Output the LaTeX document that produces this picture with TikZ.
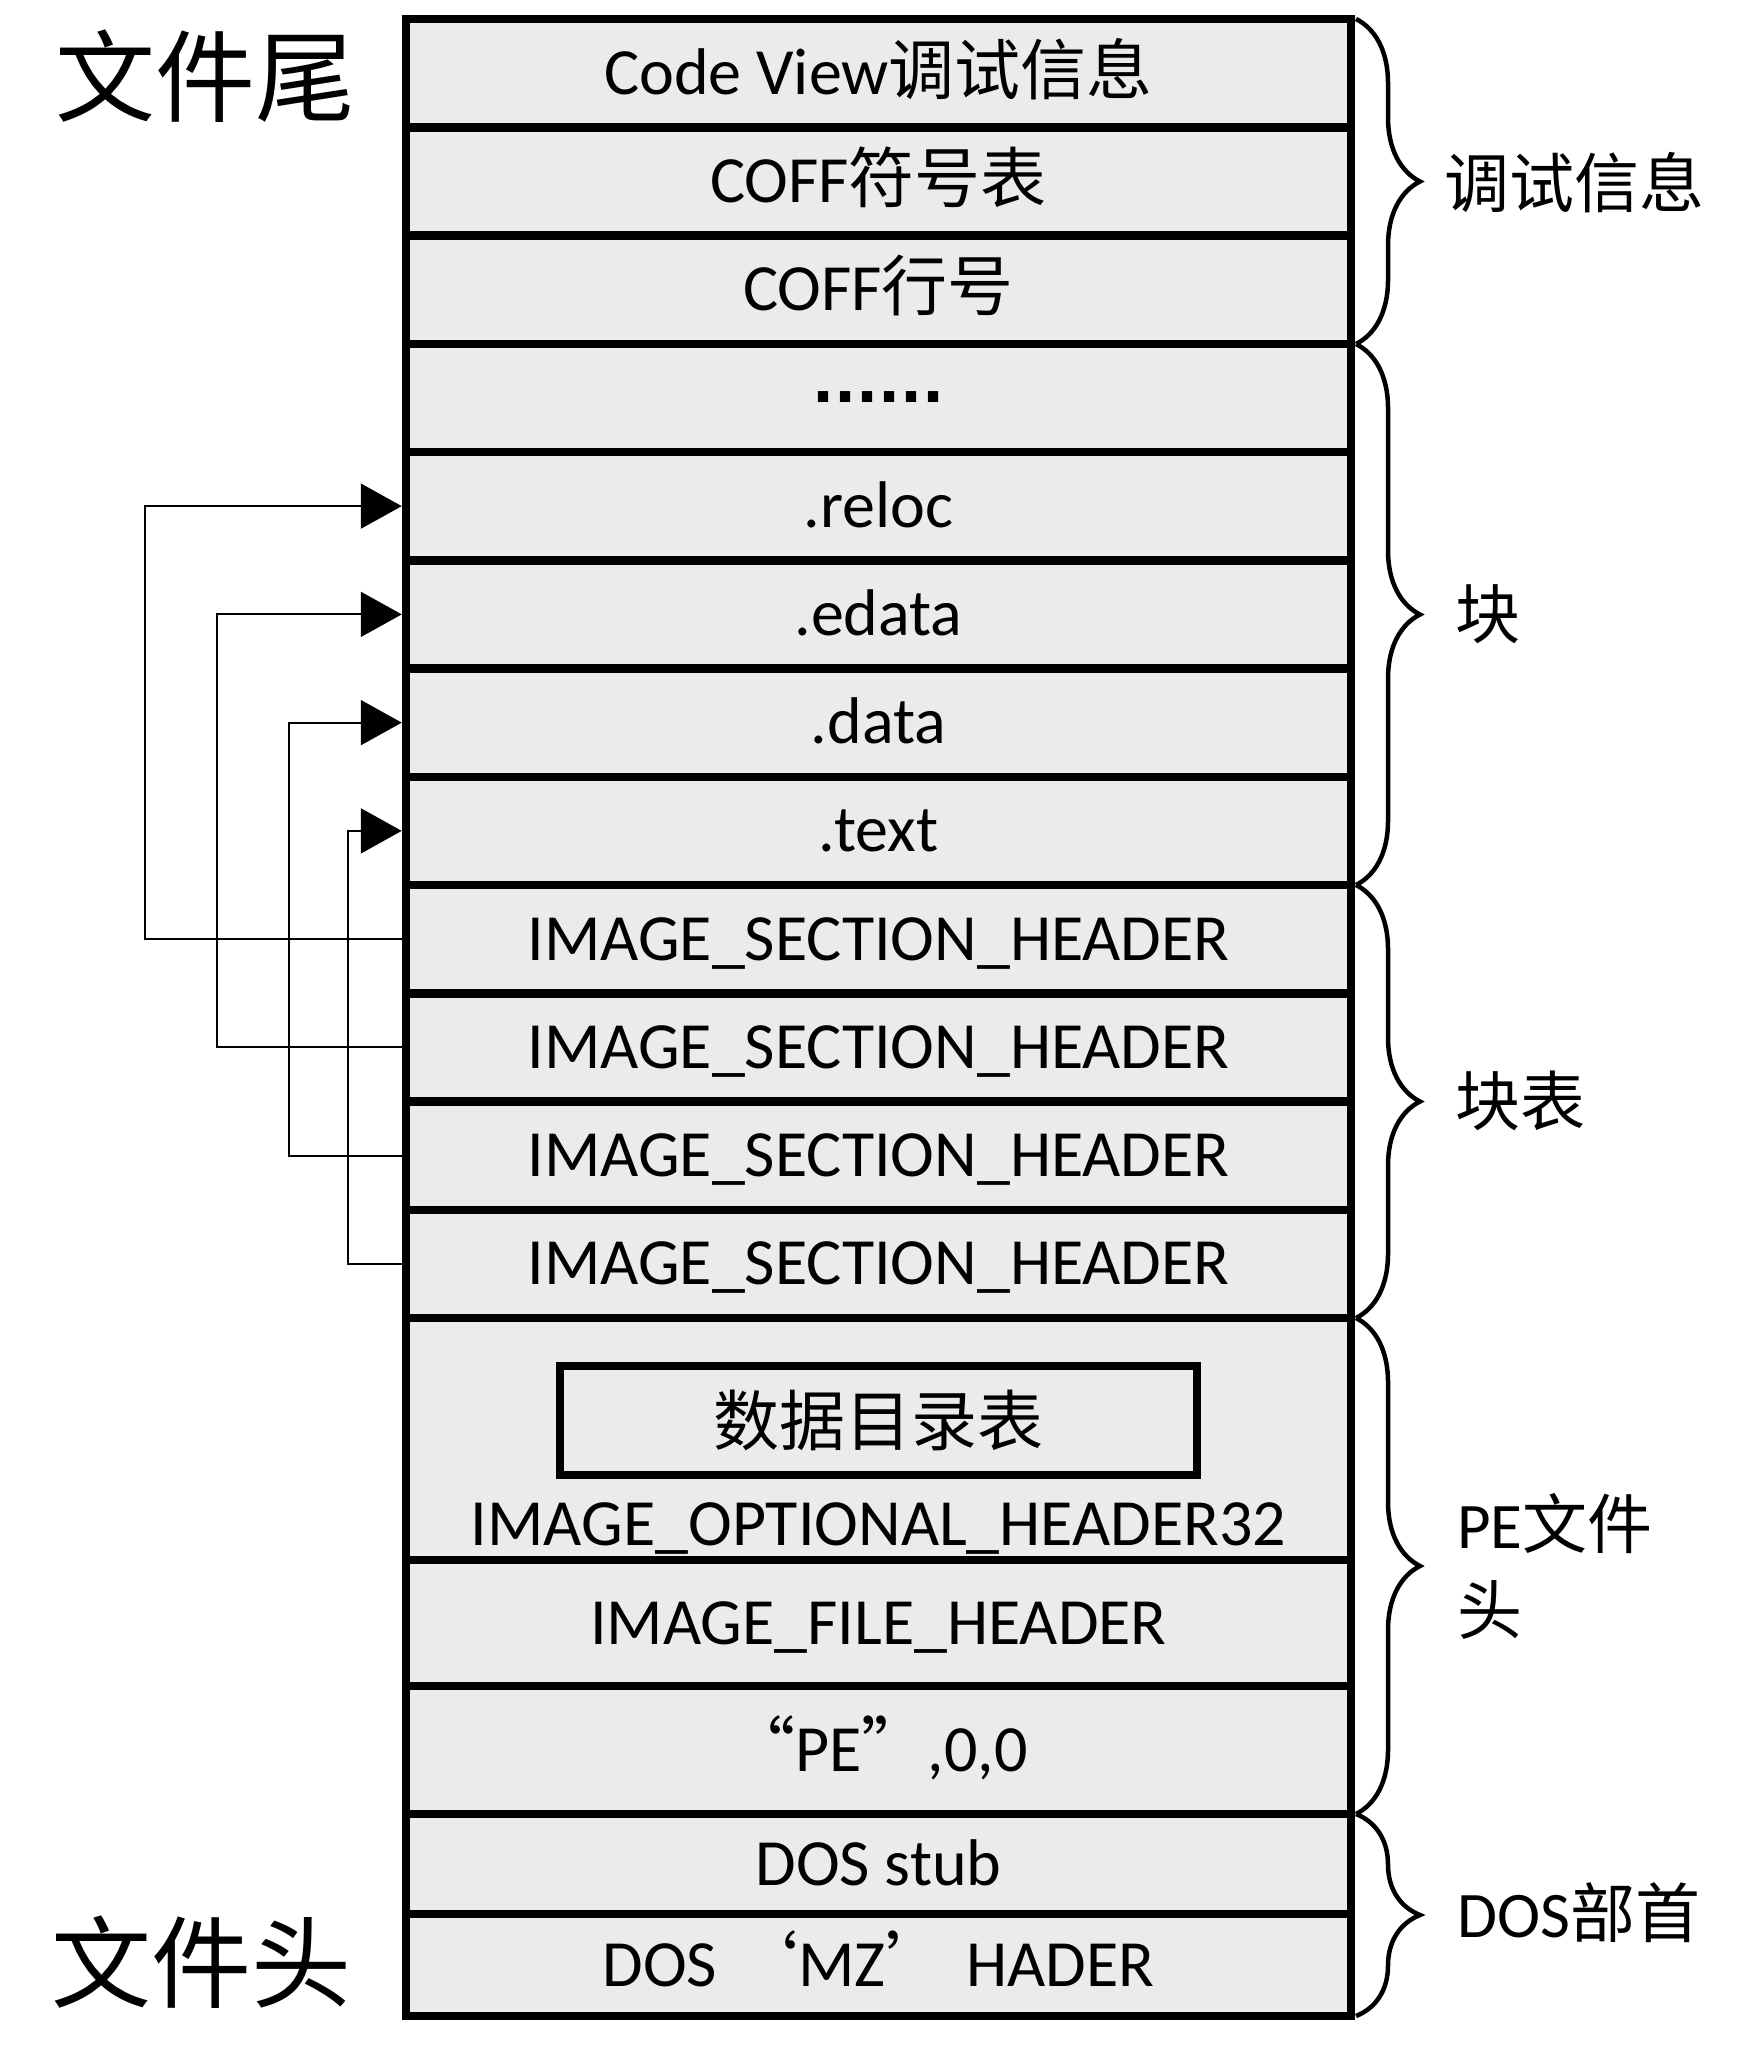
\documentclass[tikz,border=0pt]{standalone}
\usepackage{fontspec}
\setmainfont{Carlito}
\newfontfamily\cjkfont{Noto Sans CJK SC}
\newfontfamily\dotfont{DejaVu Sans}
\usetikzlibrary{arrows.meta,decorations.pathreplacing}
\definecolor{cellgray}{RGB}{235,235,235}
\tikzset{
  rowbox/.style={draw, line width=8.5pt, fill=cellgray, minimum width=945pt, inner sep=0pt, text height=42pt, text depth=0pt, font=\fontsize{66}{79}\selectfont},
  sidelabel/.style={anchor=west, inner sep=0pt, align=left, font=\fontsize{65}{86}\selectfont},
  endlabel/.style={inner sep=0pt, font=\fontsize{100}{120}\selectfont\cjkfont},
  sidebrace/.style={decorate, decoration={brace, amplitude=64pt, raise=5pt}, line width=4.5pt},
  sectlink/.style={line width=2pt, -{Triangle[length=41pt, width=45pt]}},
}
\begin{document}
\begin{tikzpicture}[x=1pt,y=1pt,yscale=-1,xscale=1]
        \useasboundingbox (0,0) rectangle (1744,2063);
        %Shape: Rectangle [Code View]
        \draw (878.5,73.13) node [rowbox] [minimum height=108.25pt] (cv) {Code View{\cjkfont 调试信息}};
        %Shape: Rectangle [COFF symbols]
        \draw (878.5,181.38) node [rowbox] [minimum height=108.25pt] (coffsym) {COFF{\cjkfont 符号表}};
        %Shape: Rectangle [COFF lines]
        \draw (878.5,289.63) node [rowbox] [minimum height=108.25pt] (coffline) {COFF{\cjkfont 行号}};
        %Shape: Rectangle [more sections]
        \draw (878.5,397.88) node [rowbox] [minimum height=108.25pt] (moresec) {\raisebox{16pt}{\fontsize{58}{70}\selectfont\dotfont\bfseries ......}};
        %Shape: Rectangle [.reloc]
        \draw (878.5,506.13) node [rowbox] [minimum height=108.25pt] (relocsec) {.reloc};
        %Shape: Rectangle [.edata]
        \draw (878.5,614.38) node [rowbox] [minimum height=108.25pt] (edatasec) {.edata};
        %Shape: Rectangle [.data]
        \draw (878.5,722.63) node [rowbox] [minimum height=108.25pt] (datasec) {.data};
        %Shape: Rectangle [.text]
        \draw (878.5,830.88) node [rowbox] [minimum height=108.25pt] (textsec) {.text};
        %Shape: Rectangle [section header 1]
        \draw (878.5,939.13) node [rowbox] [minimum height=108.25pt] (ish1) {IMAGE\_SECTION\_HEADER};
        %Shape: Rectangle [section header 2]
        \draw (878.5,1047.38) node [rowbox] [minimum height=108.25pt] (ish2) {IMAGE\_SECTION\_HEADER};
        %Shape: Rectangle [section header 3]
        \draw (878.5,1155.63) node [rowbox] [minimum height=108.25pt] (ish3) {IMAGE\_SECTION\_HEADER};
        %Shape: Rectangle [section header 4]
        \draw (878.5,1263.88) node [rowbox] [minimum height=108.25pt] (ish4) {IMAGE\_SECTION\_HEADER};
        %Shape: Rectangle [optional header]
        \draw (878.5,1439) node [rowbox] [minimum height=242pt] (opthdr) {};
        %Shape: Rectangle [data directory]
        \draw (878.5,1420.5) node [draw, line width=8pt, fill=cellgray, minimum width=637pt, minimum height=109pt, inner sep=0pt] [font=\fontsize{66}{79}\selectfont\cjkfont] (datadir) {数据目录表};
        % Text Node
        \draw (878.5,1545) node [anchor=base, inner sep=0pt] [font=\fontsize{66}{79}\selectfont] (optlabel) {IMAGE\_OPTIONAL\_HEADER32};
        %Shape: Rectangle [file header]
        \draw (878.5,1623) node [rowbox] [minimum height=126pt] (filehdr) {IMAGE\_FILE\_HEADER};
        %Shape: Rectangle [PE signature]
        \draw (878.5,1750) node [rowbox] [minimum height=128pt] (pesig) {{\cjkfont “}PE{\cjkfont ”},0,0};
        %Shape: Rectangle [DOS stub]
        \draw (878.5,1864) node [rowbox] [minimum height=100pt] (dosstub) {DOS stub};
        %Shape: Rectangle [MZ header]
        \draw (878.5,1965) node [rowbox] [minimum height=102pt] (mzhdr) {DOS {\cjkfont ‘}MZ{\cjkfont ’} HADER};
        %Straight Lines [header 1 to .reloc]
        \draw [sectlink] (ish1.west) -- ++(-257,0) |- (relocsec.west);
        %Straight Lines [header 2 to .edata]
        \draw [sectlink] (ish2.west) -- ++(-185,0) |- (edatasec.west);
        %Straight Lines [header 3 to .data]
        \draw [sectlink] (ish3.west) -- ++(-113,0) |- (datasec.west);
        %Straight Lines [header 4 to .text]
        \draw [sectlink] (ish4.west) -- ++(-54,0) |- (textsec.west);
        %Shape: Brace
        \draw [sidebrace] (1351,19) -- (1351,344);
        \draw [sidebrace] (1351,344) -- (1351,885);
        \draw [sidebrace] (1351,885) -- (1351,1318);
        \draw [sidebrace] (1351,1318) -- (1351,1814);
        \draw [sidebrace] (1351,1814) -- (1351,2016);
        % Text Node
        \draw (1444,183) node [sidelabel] (lbldebug) {{\cjkfont 调试信息}};
        % Text Node
        \draw (1455,614) node [sidelabel] (lblsect) {{\cjkfont 块}};
        % Text Node
        \draw (1455,1101) node [sidelabel] (lbltable) {{\cjkfont 块表}};
        % Text Node
        \draw (1457,1566) node [sidelabel] (lblpe) {PE{\cjkfont 文件}\\{\cjkfont 头}};
        % Text Node
        \draw (1457,1913) node [sidelabel] (lbldos) {DOS{\cjkfont 部首}};
        % Text Node
        \draw (205,76) node [endlabel] (lbltail) {文件尾};
        % Text Node
        \draw (201,1962) node [endlabel] (lblhead) {文件头};
\end{tikzpicture}
\end{document}
